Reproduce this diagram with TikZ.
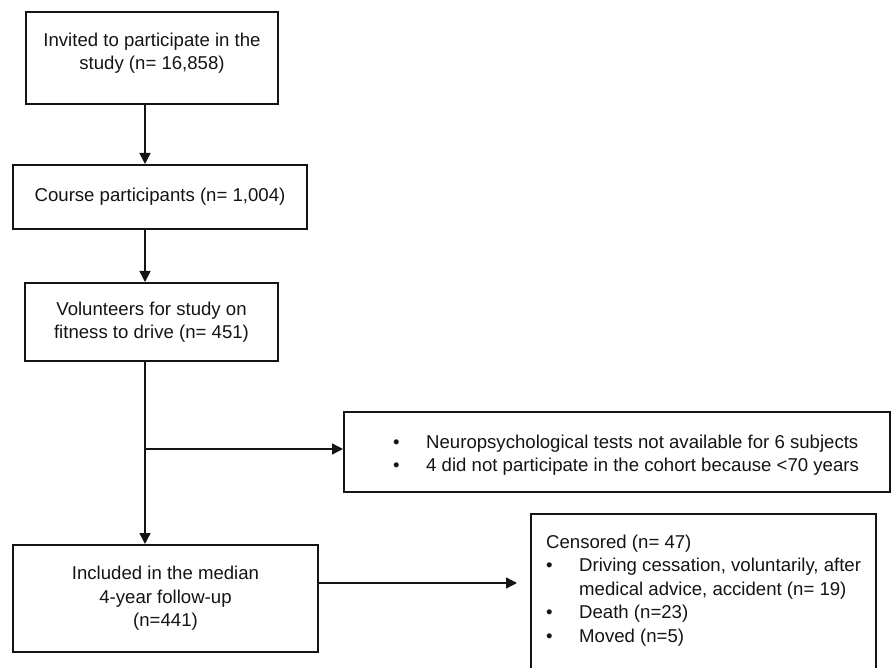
\documentclass[tikz,border=0pt]{standalone}
\usepackage{fontspec}
\setmainfont{Liberation Sans}
\usetikzlibrary{arrows.meta}
\definecolor{ink}{RGB}{20,20,20}
\begin{document}
\begin{tikzpicture}[x=1pt,y=-1pt,
  font=\fontsize{18.6}{23.5}\selectfont,
  box/.style={draw=ink, line width=2pt, inner sep=0pt, text=ink, align=center},
  txt/.style={inner sep=0pt, text=ink, align=left, anchor=north west},
  conn/.style={draw=ink, line width=1.4pt},
  arr/.style={conn, -{Triangle[length=11pt,width=11pt]}}]
\useasboundingbox (0,0) rectangle (892,668);
\clip (0,0) rectangle (892,668);
\newcommand{\bul}{\makebox[33pt][l]{•}}
% boxes
\node[box, minimum width=252pt, minimum height=92pt] (b1) at (152,58)
  {Invited to participate in the\\study (n= 16,858)\\[-10pt]};
\node[box, minimum width=294pt, minimum height=64pt] (b2) at (160,197)
  {Course participants (n= 1,004)};
\node[box, minimum width=253pt, minimum height=78pt] (b3) at (151.5,322)
  {Volunteers for study on\\fitness to drive (n= 451)};
\node[box, minimum width=546pt, minimum height=80pt] (b4) at (617,452) {};
\node[box, minimum width=305pt, minimum height=107pt] (b5) at (165.5,598.5)
  {Included in the median\\4-year follow-up\\(n=441)};
\node[box, minimum width=345pt, minimum height=180pt] (b6) at (703.5,604) {};
% texts of side boxes
\node[txt] (t4) at (393,434.6)
  {\bul Neuropsychological tests not available for 6 subjects\\
   \bul 4 did not participate in the cohort because <70 years};
\node[txt] (t6) at (546,534.6)
  {Censored (n= 47)\\
   \bul Driving cessation, voluntarily, after\\
   \hspace*{33pt}medical advice, accident (n= 19)\\
   \bul Death (n=23)\\
   \bul Moved (n=5)};
% connectors
\coordinate (ax) at (145,0);
\coordinate (br) at (145,449);
\coordinate (e6) at (517,583);
\draw[arr] (b1.south -| ax) -- (b2.north -| ax);
\draw[arr] (b2.south -| ax) -- (b3.north -| ax);
\draw[arr] (b3.south -| ax) -- (b5.north -| ax);
\draw[arr] (br) -- (b4.west |- br);
\draw[arr] (b5.east |- e6) -- (e6);
\end{tikzpicture}
\end{document}
